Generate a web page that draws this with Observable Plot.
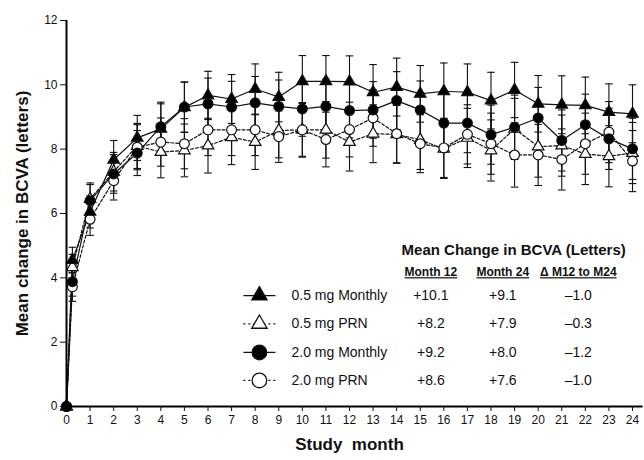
<!DOCTYPE html>
<html><head><meta charset="utf-8">
<script src="https://cdn.jsdelivr.net/npm/d3@7"></script>
<script src="https://cdn.jsdelivr.net/npm/@observablehq/plot@0.6"></script>
<style>
body{margin:0;background:#fff;}
#chart{width:644px;height:460px;}
</style></head><body><div id="chart"></div><script>
// Study months (0.25 = week 1)
const months = [0,0.25,1,2,3,4,5,6,7,8,9,10,11,12,13,14,15,16,17,18,19,20,21,22,23,24];
const seriesNames = ["0.5 mg Monthly","0.5 mg PRN","2.0 mg Monthly","2.0 mg PRN"];
// Mean change in BCVA (letters)
const m05 = [0,4.55,6.05,7.67,8.35,8.63,9.30,9.67,9.56,9.87,9.62,10.11,10.11,10.10,9.77,9.93,9.72,9.80,9.77,9.51,9.84,9.41,9.38,9.36,9.15,9.10];
const p05 = [0,4.33,6.45,7.30,8.10,7.91,7.96,8.11,8.37,8.22,8.58,8.60,8.60,8.22,8.48,8.46,8.29,8.01,8.35,7.96,8.63,8.08,8.11,7.85,7.78,7.88];
const m20 = [0,3.88,6.40,7.23,7.88,8.70,9.31,9.41,9.31,9.44,9.33,9.25,9.33,9.20,9.22,9.51,9.22,8.81,8.81,8.45,8.68,8.97,8.27,8.76,8.32,8.01];
const p20 = [0,3.72,5.82,7.02,8.06,8.22,8.17,8.60,8.60,8.60,8.39,8.60,8.30,8.61,8.97,8.48,8.17,8.04,8.46,8.17,7.82,7.82,7.68,8.17,8.53,7.63];
// Error bar half-lengths
const e05m = [0,0.40,0.50,0.60,0.70,0.78,0.78,0.75,0.76,0.78,0.77,0.80,0.80,0.80,0.86,0.90,0.88,0.88,0.88,0.88,0.86,0.88,0.90,0.88,0.88,0.90];
const e05p = [0,0.40,0.50,0.60,0.70,0.80,0.82,0.85,0.85,0.85,0.85,0.85,0.88,0.90,0.90,0.90,0.92,0.92,0.92,0.95,0.95,0.95,0.95,0.95,0.95,0.95];
const e20m = [0,0.45,0.50,0.60,0.70,0.76,0.78,0.80,0.80,0.82,0.82,0.85,0.85,0.85,0.88,0.90,0.90,0.90,0.92,0.92,1.00,0.95,0.95,0.95,0.95,0.95];
const e20p = [0,0.45,0.50,0.60,0.70,0.75,0.78,0.80,0.80,0.80,0.80,0.82,0.85,0.85,0.88,0.90,0.90,0.92,0.92,0.95,1.00,0.95,0.95,0.95,0.95,0.95];
// Table values
const month12Labels = ["+10.1","+8.2","+9.2","+8.6"];
const month24Labels = ["+9.1","+7.9","+8.0","+7.6"];
const deltaLabels = ["\u20131.0","\u20130.3","\u20131.2","\u20131.0"];
const headerLabels = ["Month 12","Month 24","\u0394 M12 to M24"];
const xTicks = [0,1,2,3,4,5,6,7,8,9,10,11,12,13,14,15,16,17,18,19,20,21,22,23,24];
const yTicks = [0,2,4,6,8,10,12];

const valueSets = [m05,p05,m20,p20];
const errSets = [e05m,e05p,e20m,e20p];
const styles = [
  {symbol:"triangle", fill:"black", dash:null, r:4.3, lr:5.7},
  {symbol:"triangle", fill:"white", dash:"3,2", r:4.3, lr:5.7},
  {symbol:"circle", fill:"black", dash:null, r:4.9, lr:7.3},
  {symbol:"circle", fill:"white", dash:"3,2", r:4.9, lr:7.3}
];
const rows = seriesNames.map((s,i)=>months.map((m,j)=>({series:s, idx:i, month:m, value:valueSets[i][j], err:errSets[i][j]})));
const allRows = rows.flat();
const bars = allRows.filter(d=>d.err>0);

// legend layout (in chart units)
const legRowY = [3.45,2.57,1.68,0.81];
const legend = seriesNames.map((s,i)=>({name:s, i, y:legRowY[i], m12:month12Labels[i], m24:month24Labels[i], d:deltaLabels[i]}));
const symX = 8.18, lineX1 = 7.5, lineX2 = 8.86, labelX = 9.54, c1 = 15.45, c2 = 18.5, c3 = 21.7;

const marks = [
  Plot.axisY({ticks:yTicks, tickSize:6, tickPadding:3, label:null, fontSize:12}),
  Plot.axisX({ticks:xTicks, tickSize:5, tickPadding:4, label:null, fontSize:12, tickFormat:d=>String(d)}),
  Plot.ruleX(bars, {x:"month", y1:d=>d.value-d.err, y2:d=>d.value+d.err, stroke:"#111", strokeWidth:1.1}),
  Plot.link(bars, {x1:d=>d.month-0.16, x2:d=>d.month+0.16, y1:d=>d.value+d.err, y2:d=>d.value+d.err, stroke:"#111", strokeWidth:1.1}),
  Plot.link(bars, {x1:d=>d.month-0.16, x2:d=>d.month+0.16, y1:d=>d.value-d.err, y2:d=>d.value-d.err, stroke:"#111", strokeWidth:1.1}),
];
[1,3,0,2].forEach(i=>{
  marks.push(Plot.line(rows[i], {x:"month", y:"value", stroke:"#111", strokeWidth:1.2, strokeDasharray:styles[i].dash||undefined}));
});
[1,3,0,2].forEach(i=>{
  marks.push(Plot.dot(rows[i], {x:"month", y:"value", symbol:styles[i].symbol, r:styles[i].r, fill:styles[i].fill, stroke:"#111", strokeWidth:1.2}));
});
marks.push(Plot.ruleX([0], {y1:0, y2:12, stroke:"black", strokeWidth:2}));
marks.push(Plot.ruleY([0], {x1:-0.12, x2:24.45, stroke:"black", strokeWidth:2}));
marks.push(Plot.dot(allRows.filter(d=>d.month===0 && d.idx===2), {x:"month", y:"value", symbol:"circle", r:4.9, fill:"black"}));
marks.push(Plot.text(["Study  month"], {frameAnchor:"bottom", dy:43, text:d=>d, fontWeight:"bold", fontSize:17, fill:"#111"}));
marks.push(Plot.text(["Mean change in BCVA (letters)"], {frameAnchor:"left", textAnchor:"middle", dx:-44, rotate:-90, text:d=>d, fontWeight:"bold", fontSize:17, fill:"#111"}));
marks.push(Plot.text(["Mean Change in BCVA (Letters)"], {x:18.96, y:4.86, text:d=>d, fontWeight:"bold", fontSize:15, fill:"#111"}));
marks.push(Plot.text(headerLabels, {x:(d,i)=>[c1,c2,c3][i], y:4.17, text:d=>d, fontWeight:"bold", fontSize:12, fill:"#111"}));
legend.forEach(L=>{
  const st = styles[L.i];
  marks.push(Plot.link([L], {x1:lineX1, x2:lineX2, y1:"y", y2:"y", stroke:"#111", strokeWidth:1.3, strokeDasharray:st.dash?"2,3":undefined}));
  marks.push(Plot.dot([L], {x:symX, y:"y", symbol:st.symbol, r:st.lr, fill:st.fill, stroke:"#111", strokeWidth:1.3}));
});
marks.push(Plot.text(legend, {x:labelX, y:"y", text:"name", textAnchor:"start", fontSize:14, fill:"#111"}));
marks.push(Plot.text(legend, {x:c1, y:"y", text:"m12", fontSize:14, fill:"#111"}));
marks.push(Plot.text(legend, {x:c2, y:"y", text:"m24", fontSize:14, fill:"#111"}));
marks.push(Plot.text(legend, {x:c3, y:"y", text:"d", fontSize:14, fill:"#111"}));

const chart = Plot.plot({
  width:644, height:460,
  marginLeft:66, marginRight:12, marginTop:20, marginBottom:54,
  x:{domain:[0,24]},
  y:{domain:[0,12]},
  style:{fontFamily:"'Liberation Sans', Arial, sans-serif", fontSize:"12px", color:"#111", background:"white", overflow:"visible"},
  marks
});
d3.select(chart).selectAll("text").filter(function(){ return headerLabels.includes(this.textContent); })
  .attr("text-decoration","underline").style("text-decoration","underline");
document.getElementById("chart").appendChild(chart);
</script></body></html>
